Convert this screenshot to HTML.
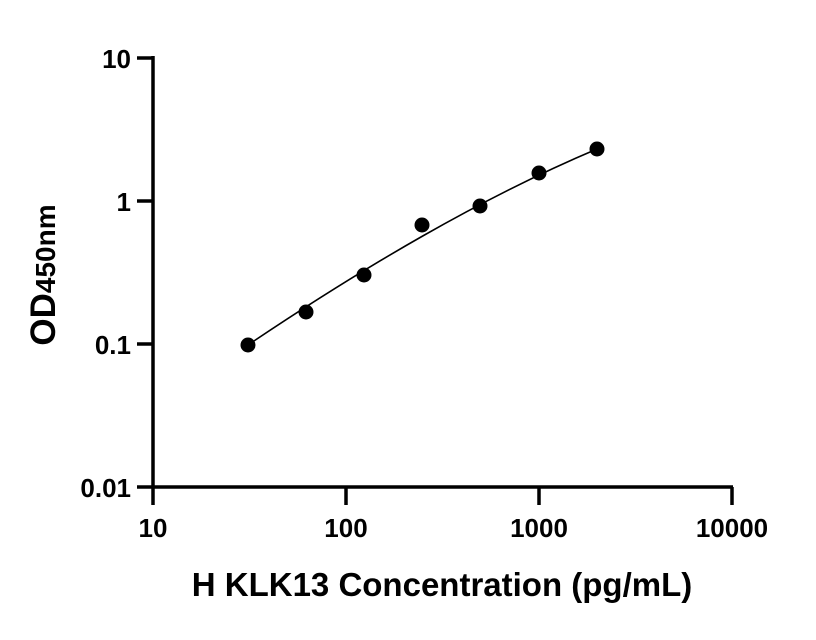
<!DOCTYPE html>
<html><head><style>body{margin:0;background:#fff}svg{display:block}</style></head>
<body>
<svg width="816" height="640" xmlns="http://www.w3.org/2000/svg" font-family="Liberation Sans, Arial, sans-serif" font-weight="bold">
<g stroke="#000" stroke-width="3.5" fill="none">
<line x1="153" y1="56" x2="153" y2="505"/>
<line x1="137" y1="487" x2="733" y2="487"/>
<line x1="137" y1="58" x2="153" y2="58"/>
<line x1="137" y1="201" x2="153" y2="201"/>
<line x1="137" y1="344" x2="153" y2="344"/>
<line x1="346" y1="487" x2="346" y2="505"/>
<line x1="539" y1="487" x2="539" y2="505"/>
<line x1="732" y1="487" x2="732" y2="505"/>
</g>
<g font-size="26" text-anchor="end">
<text x="131" y="68">10</text>
<text x="131" y="211">1</text>
<text x="131" y="354">0.1</text>
<text x="131" y="497">0.01</text>
</g>
<g font-size="26" text-anchor="middle">
<text x="153" y="537">10</text>
<text x="346" y="537">100</text>
<text x="539" y="537">1000</text>
<text x="732" y="537">10000</text>
</g>
<text x="442" y="596" font-size="33" text-anchor="middle">H KLK13 Concentration (pg/mL)</text>
<text transform="translate(55,275) rotate(-90)" text-anchor="middle" font-size="35">OD<tspan font-size="28">450nm</tspan></text>
<path d="M248 345 C 364 267, 481 198, 597 149" stroke="#000" stroke-width="1.6" fill="none"/>
<g fill="#000">
<circle cx="248" cy="345" r="7.5"/>
<circle cx="306" cy="312" r="7.5"/>
<circle cx="364" cy="275" r="7.5"/>
<circle cx="422" cy="225" r="7.5"/>
<circle cx="480" cy="206" r="7.5"/>
<circle cx="539" cy="173" r="7.5"/>
<circle cx="597" cy="149" r="7.5"/>
</g>
</svg>
</body></html>
